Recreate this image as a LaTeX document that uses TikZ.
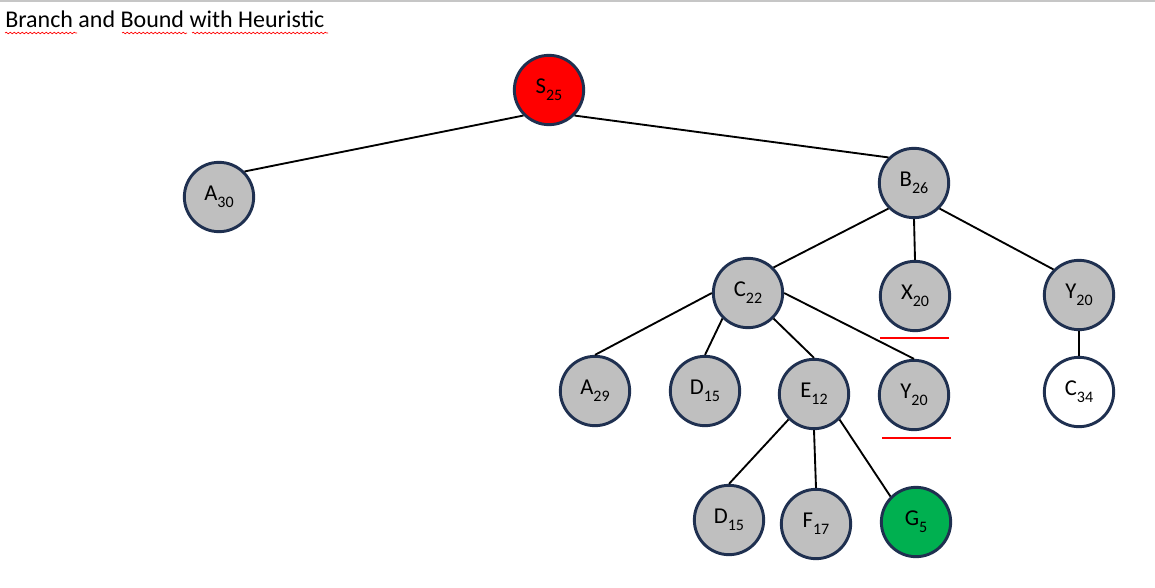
\documentclass[tikz,border=0pt]{standalone}
\usepackage{fontspec}
\setmainfont{Carlito}
\usepackage{tikz}
\usetikzlibrary{decorations.pathmorphing}
\definecolor{navy}{HTML}{1F3050}
\definecolor{nodegray}{HTML}{BFBFBF}
\definecolor{goalgreen}{HTML}{00B050}

\newcommand{\nsub}[1]{\raisebox{-0.3em}{\fontsize{12}{13}\selectfont #1}}

\tikzset{
  bb/.style={circle, draw=navy, line width=2.2pt, fill=nodegray,
    minimum size=52pt, inner sep=0pt, font=\fontsize{17}{19}\selectfont},
  link/.style={black, line width=1.4pt},
  mark line/.style={red, line width=1.5pt},
  spell/.style={red, line width=0.5pt, decorate,
    decoration={snake, amplitude=0.6pt, segment length=3pt}},
}

\begin{document}
\begin{tikzpicture}[x=0.75pt, y=-0.75pt]

\useasboundingbox (0,0) rectangle (1155,588);
\draw[gray!45, line width=1pt] (0,1) -- (1155,1);

\node[anchor=base west, inner sep=0pt, font=\fontsize{18}{21}\selectfont] (title) at (5,28) {Branch and Bound with Heuristic};
\draw[spell] (5,33) -- (77,33);
\draw[spell] (122,33) -- (187,33);
\draw[spell] (192,33) -- (328,33);

% level 0
\node[bb, fill=red] (S) at (549,90) {S\nsub{25}};

% level 1
\node[bb] (A30) at (219,197) {A\nsub{30}};
\node[bb] (B) at (914,183) {B\nsub{26}};

% level 2
\node[bb] (C) at (748,293) {C\nsub{22}};
\node[bb] (X) at (915,296) {X\nsub{20}};
\node[bb] (Yr) at (1079,295) {Y\nsub{20}};

% level 3
\node[bb] (A29) at (595,391) {A\nsub{29}};
\node[bb] (D15) at (705,391) {D\nsub{15}};
\node[bb] (E) at (814,394) {E\nsub{12}};
\node[bb] (Ym) at (914,395) {Y\nsub{20}};
\node[bb, fill=white] (C34) at (1079,392) {C\nsub{34}};

% level 4
\node[bb] (D15b) at (729,520) {D\nsub{15}};
\node[bb] (F) at (816,524) {F\nsub{17}};
\node[bb, fill=goalgreen] (G) at (916,522) {G\nsub{5}};

% edges
\draw[link] (S.south west) -- (A30.north east);
\draw[link] (S.south east) -- (B.north west);
\draw[link] (B.south west) -- (C.north east);
\draw[link] (B.south) -- (X.north);
\draw[link] (B.south east) -- (Yr.north west);
\draw[link] (C.west) -- (A29.north);
\draw[link] (C.south west) -- (D15.north);
\draw[link] (C.south east) -- (E.north);
\draw[link] (C.east) -- (Ym.north);
\draw[link] (Yr.south) -- (C34.north);
\draw[link] (E.south west) -- (D15b.north);
\draw[link] (E.south) -- (F.north);
\draw[link] (E.south east) -- (G.north west);

% pruned marks
\draw[mark line] (880,338) -- (949,338);
\draw[mark line] (882,438) -- (951,438);

\end{tikzpicture}
\end{document}
